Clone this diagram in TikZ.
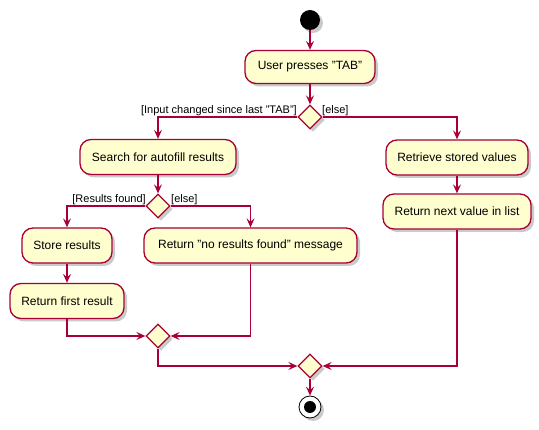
\documentclass[tikz,border=0pt]{standalone}
\usepackage{fontspec}
\setmainfont{Liberation Sans}
\usetikzlibrary{shapes.geometric,arrows.meta,shadows}
\definecolor{umlfill}{HTML}{FEFECE}
\definecolor{umlline}{HTML}{A80036}
\tikzset{
  shade3/.style={drop shadow={shadow xshift=3pt,shadow yshift=-3pt,opacity=0.35,fill=black!60}},
  act/.style={draw=umlline,line width=1.3pt,fill=umlfill,rounded corners=11pt,
    inner sep=0pt,font=\fontsize{12}{14}\selectfont,shade3},
  dia/.style={draw=umlline,line width=1.3pt,fill=umlfill,diamond,inner sep=0pt,
    minimum width=24pt,minimum height=24pt,shade3},
  flow/.style={draw=umlline,line width=1.1pt,-{Stealth[length=9pt,width=8pt,inset=3.5pt]}},
  lbl/.style={font=\fontsize{11}{13}\selectfont,inner sep=0pt},
}
\begin{document}
\begin{tikzpicture}[x=1pt,y=-1pt]
\useasboundingbox (0,0) rectangle (539,430);
% start / end
\node[circle,fill=black,minimum size=20pt,inner sep=0pt,shade3] (start) at (310,20) {};
\node[circle,draw=black,line width=0.8pt,fill=white,minimum size=22pt,inner sep=0pt,shade3] (stop) at (310,407) {};
\node[circle,fill=black,minimum size=12pt,inner sep=0pt] (stopin) at (310,407) {};
% actions
\node[act,minimum width=130pt,minimum height=33pt] (user) at (310,67) {User presses "TAB"};
\node[dia] (d1) at (310,117) {};
\node[act,minimum width=156pt,minimum height=35pt] (search) at (158,157) {Search for autofill results};
\node[act,minimum width=142pt,minimum height=35pt] (retr) at (457,157.5) {Retrieve stored values};
\node[act,minimum width=148pt,minimum height=35pt] (next) at (457,211.5) {Return next value in list};
\node[dia] (d2) at (158,206) {};
\node[act,minimum width=90pt,minimum height=35pt] (store) at (67,245.5) {Store results};
\node[act,minimum width=213pt,minimum height=35pt] (nores) at (250.5,245.5) {Return "no results found" message};
\node[act,minimum width=114pt,minimum height=35pt] (first) at (67,301) {Return first result};
\node[dia] (d3) at (158,336) {};
\node[dia] (d4) at (310,366) {};
% labels
\node[lbl,anchor=east] (l1) at (297,111) {[Input changed since last "TAB"]};
\node[lbl,anchor=west] (l2) at (322,111) {[else]};
\node[lbl,anchor=east] (l3) at (146,200) {[Results found]};
\node[lbl,anchor=west] (l4) at (171,200) {[else]};
% connectors
\draw[flow] (start) -- (user);
\draw[flow] (user) -- (d1);
\draw[flow] (d1.west) -| (search.north);
\draw[flow] (d1.east) -| (retr.north);
\draw[flow] (retr) -- (next);
\draw[flow] (search) -- (d2);
\draw[flow] (d2.west) -| (store.north);
\draw[flow] (d2.east) -| (nores.north);
\draw[flow] (store) -- (first);
\draw[flow] (first.south) |- (d3.west);
\draw[flow] (nores.south) |- (d3.east);
\draw[flow] (d3.south) |- (d4.west);
\draw[flow] (next.south) |- (d4.east);
\draw[flow] (d4) -- (stop);
\end{tikzpicture}
\end{document}
